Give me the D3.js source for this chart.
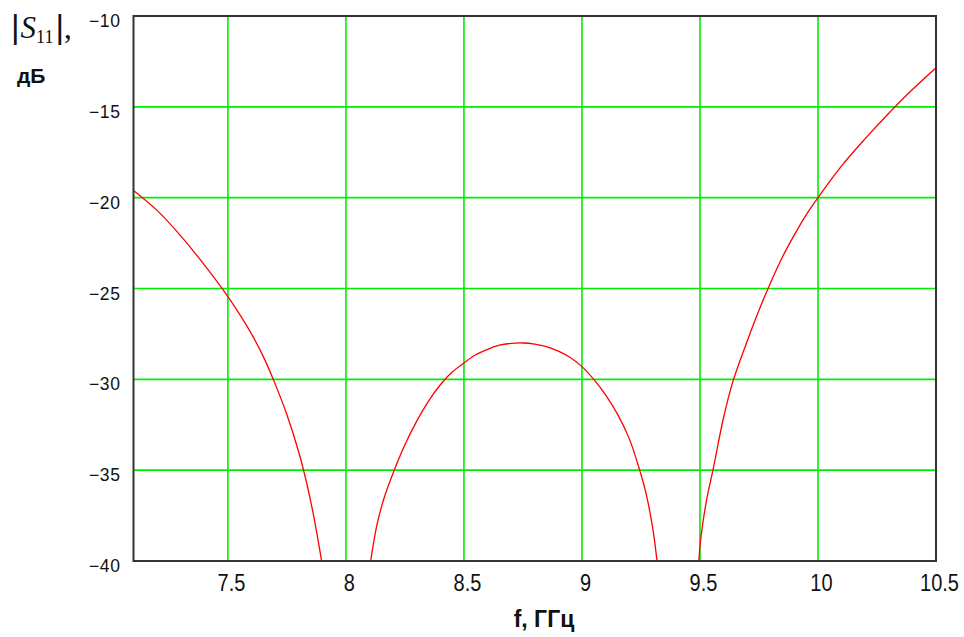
<!DOCTYPE html>
<html>
<head>
<meta charset="utf-8">
<script src="https://cdn.jsdelivr.net/npm/d3@7"></script>
<style>
  html, body { margin: 0; padding: 0; background: #fff; }
  svg { display: block; }
</style>
</head>
<body>
<svg id="chart" width="964" height="637"></svg>
<script>
// Return loss |S11| versus frequency; null marks a break where the trace drops below the axis floor
const freqGHz = [
  7.100, 7.200, 7.300, 7.400, 7.500, 7.600, 7.650, 7.700, 7.750, 7.800, 7.830, 7.860, 7.897,
  null,
  8.105, 8.130, 8.160, 8.200, 8.250, 8.300, 8.350, 8.400, 8.450, 8.500, 8.550, 8.600, 8.650, 8.700,
  8.750, 8.800, 8.850, 8.900, 8.950, 9.000, 9.050, 9.100, 9.150, 9.200, 9.240, 9.270, 9.300, 9.318,
  null,
  9.495, 9.505, 9.530, 9.555, 9.600, 9.640, 9.700, 9.750, 9.800, 9.850, 9.900, 9.950, 10.000,
  10.100, 10.200, 10.300, 10.400, 10.500
];
const s11dB = [
  -19.6, -20.7, -22.1, -23.7, -25.45, -27.5, -28.75, -30.25, -31.95, -34.0, -35.5, -37.3, -40.0,
  null,
  -40.0, -38.1, -36.6, -35.15, -33.6, -32.3, -31.2, -30.3, -29.6, -29.1, -28.65, -28.35, -28.12, -28.02,
  -28.0, -28.06, -28.2, -28.45, -28.8, -29.3, -30.0, -30.85, -31.9, -33.25, -34.8, -36.2, -38.2, -40.0,
  null,
  -40.0, -38.6, -36.5, -35.0, -32.1, -30.1, -27.9, -26.2, -24.65, -23.25, -22.05, -20.95, -20.0,
  -18.25, -16.75, -15.35, -14.05, -12.85
];

const xTicks = [7.5, 8, 8.5, 9, 9.5, 10, 10.5];
const yTicks = [-10, -15, -20, -25, -30, -35, -40];
const xDomain = [7.1, 10.5];
const yDomain = [-40, -10];

const svg = d3.select("#chart");
const plot = { left: 133.5, right: 936, top: 16, bottom: 561 };

const x = d3.scaleLinear().domain(xDomain).range([plot.left, plot.right]);
const y = d3.scaleLinear().domain(yDomain).range([plot.bottom, plot.top]);

svg.append("defs").append("clipPath").attr("id", "plotClip")
  .append("rect")
  .attr("x", plot.left).attr("y", plot.top)
  .attr("width", plot.right - plot.left).attr("height", plot.bottom - plot.top);

// grid
const grid = svg.append("g");
grid.selectAll("line.vx")
  .data(xTicks.filter(d => d > xDomain[0] && d < xDomain[1]))
  .join("line")
  .attr("x1", d => x(d)).attr("x2", d => x(d))
  .attr("y1", plot.top).attr("y2", plot.bottom)
  .attr("stroke", "#00ee00").attr("stroke-width", 1.6);
grid.selectAll("line.hy")
  .data(yTicks.filter(d => d > yDomain[0] && d < yDomain[1]))
  .join("line")
  .attr("y1", d => y(d)).attr("y2", d => y(d))
  .attr("x1", plot.left).attr("x2", plot.right)
  .attr("stroke", "#00ee00").attr("stroke-width", 1.6);

// trace
const pts = freqGHz.map((f, i) => ({ f, v: s11dB[i] }));
const line = d3.line()
  .defined(d => d.f !== null && d.v !== null)
  .x(d => x(d.f))
  .y(d => y(d.v))
  .curve(d3.curveCatmullRom.alpha(0.5));
svg.append("path")
  .datum(pts)
  .attr("clip-path", "url(#plotClip)")
  .attr("fill", "none")
  .attr("stroke", "#ff0000")
  .attr("stroke-width", 1.3)
  .attr("d", line);

// frame
svg.append("rect")
  .attr("x", plot.left).attr("y", plot.top)
  .attr("width", plot.right - plot.left).attr("height", plot.bottom - plot.top)
  .attr("fill", "none").attr("stroke", "#333").attr("stroke-width", 2);

// axes (labels only; the frame carries the lines)
const yAxis = d3.axisLeft(y).tickValues(yTicks).tickSize(0).tickPadding(13)
  .tickFormat(d => d3.format("d")(d).replace("-", "\u2212"));
const gy = svg.append("g").attr("transform", `translate(${plot.left},0)`).call(yAxis);
gy.select(".domain").remove();
gy.selectAll("text")
  .attr("font-family", "Liberation Sans, Arial, sans-serif")
  .attr("font-size", 17.5)
  .attr("fill", "#111")
  .attr("letter-spacing", 0.6)
  .attr("dy", "0.6em");

const xAxis = d3.axisBottom(x).tickValues(xTicks).tickSize(0).tickPadding(0)
  .tickFormat(d => String(d));
const gx = svg.append("g").attr("transform", `translate(0,${plot.bottom})`).call(xAxis);
gx.select(".domain").remove();
gx.selectAll("text")
  .attr("font-family", "Liberation Sans, Arial, sans-serif")
  .attr("font-size", 20)
  .attr("fill", "#111")
  .attr("dy", 0)
  .attr("y", 0)
  .attr("transform", "translate(3,30) scale(1,1.15)");

// axis titles
const t = svg.append("text")
  .attr("x", 11).attr("y", 38)
  .attr("font-family", "Liberation Serif, Times New Roman, serif")
  .attr("fill", "#111");
t.append("tspan").attr("font-size", 33).attr("font-family", "Liberation Sans, sans-serif").attr("font-weight", 300).text("|");
t.append("tspan").attr("font-size", 31).attr("font-style", "italic").attr("dx", 1).text("S");
t.append("tspan").attr("font-size", 18).attr("dy", 5).text("11");
t.append("tspan").attr("font-size", 33).attr("font-family", "Liberation Sans, sans-serif").attr("font-weight", 300).attr("dy", -5).attr("dx", 2).text("|");
t.append("tspan").attr("font-size", 31).text(",");

svg.append("text")
  .attr("x", 17).attr("y", 83)
  .attr("font-family", "Liberation Sans, Arial, sans-serif")
  .attr("font-weight", "bold")
  .attr("font-size", 21)
  .attr("fill", "#111")
  .text("дБ");

svg.append("text")
  .attr("x", 544).attr("y", 627)
  .attr("text-anchor", "middle")
  .attr("font-family", "Liberation Sans, Arial, sans-serif")
  .attr("font-weight", "bold")
  .attr("font-size", 23)
  .attr("fill", "#111")
  .text("f, ГГц");
</script>
</body>
</html>
